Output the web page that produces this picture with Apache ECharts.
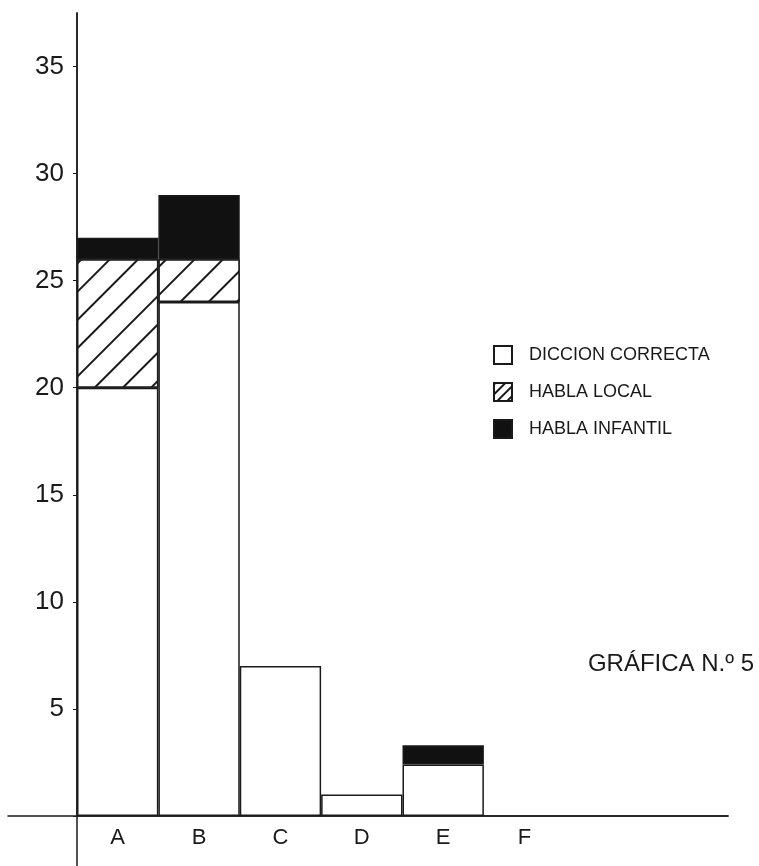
<!DOCTYPE html>
<html><head><meta charset="utf-8">
<script src="https://cdn.jsdelivr.net/npm/echarts@6/dist/echarts.min.js"></script>
<style>html,body{margin:0;padding:0;background:#fff}#c{width:759px;height:866px}</style>
</head><body><div id="c"></div>
<script>
const categories = ['A', 'B', 'C', 'D', 'E', 'F', '', ''];
const diccionCorrecta = [20, 24, 7, 1, 2.4, null, null, null];
const hablaLocal = [6, 2, null, null, null, null, null, null];
const hablaInfantil = [1, 3, null, null, 0.9, null, null, null];
const yTicks = [5, 10, 15, 20, 25, 30, 35];
const seriesNames = ['DICCION CORRECTA', 'HABLA LOCAL', 'HABLA INFANTIL'];
const titleText = 'GRÁFICA N.º 5';

const chart = echarts.init(document.getElementById('c'));
const ink = '#1a1a1a';
const font = 'Liberation Sans, Arial, sans-serif';
const border = { borderColor: ink, borderWidth: 1.5 };
chart.setOption({
  backgroundColor: '#fff',
  animation: false,
  title: { text: titleText, right: 0, top: 647, textStyle: { fontFamily: font, fontSize: 24, fontWeight: 'normal', color: ink } },
  legend: {
    orient: 'vertical', left: 488, top: 340, itemWidth: 18, itemHeight: 18, itemGap: 17, icon: 'rect',
    data: [
      { name: seriesNames[0] },
      { name: seriesNames[1], itemStyle: { decal: { symbol: 'rect', color: ink, backgroundColor: '#fff', dashArrayX: [1, 0], dashArrayY: [1.2, 5], rotation: -Math.PI / 4 } } },
      { name: seriesNames[2] }
    ],
    textStyle: { fontFamily: font, fontSize: 18, color: ink, padding: [0, 0, 0, 12] }
  },
  grid: [
    { left: 77, right: 31, top: 13, bottom: 50 },
    { left: 8, right: 31, top: 13, bottom: 50 },
    { left: 77, right: 31, top: 13, bottom: 0 }
  ],
  xAxis: [
    { type: 'category', data: categories, gridIndex: 0,
      axisLine: { lineStyle: { color: ink, width: 1.5 } }, axisTick: { show: false },
      axisLabel: { fontFamily: font, fontSize: 22, color: ink, margin: 11 } },
    { type: 'value', gridIndex: 1, axisLine: { show: true, lineStyle: { color: ink, width: 1.5 } },
      axisTick: { show: false }, axisLabel: { show: false }, splitLine: { show: false } },
    { type: 'value', gridIndex: 2, show: false }
  ],
  yAxis: [
    { type: 'value', gridIndex: 0, min: 0, max: 37.5, interval: 5,
      axisLine: { show: true, lineStyle: { color: ink, width: 1.5 } },
      axisTick: { show: true, length: 4, lineStyle: { color: ink } },
      splitLine: { show: false },
      axisLabel: { fontFamily: font, fontSize: 26, color: ink, margin: 13, showMaxLabel: false,
        formatter: v => yTicks.includes(v) ? String(v) : '' } },
    { type: 'value', gridIndex: 1, show: false },
    { type: 'value', gridIndex: 2, axisLine: { show: true, lineStyle: { color: ink, width: 1.5 } },
      axisTick: { show: false }, axisLabel: { show: false }, splitLine: { show: false } }
  ],
  series: [
    { name: seriesNames[0], type: 'bar', stack: 't', data: diccionCorrecta, barCategoryGap: '0%',
      itemStyle: Object.assign({ color: '#fff' }, border) },
    { name: seriesNames[1], type: 'bar', stack: 't', data: hablaLocal,
      itemStyle: Object.assign({ color: '#fff',
        decal: { symbol: 'rect', color: ink, backgroundColor: '#fff', dashArrayX: [1, 0], dashArrayY: [1.4, 17.5], rotation: -Math.PI / 4 } }, border) },
    { name: seriesNames[2], type: 'bar', stack: 't', data: hablaInfantil,
      itemStyle: Object.assign({ color: '#111' }, border) }
  ]
});
</script></body></html>
